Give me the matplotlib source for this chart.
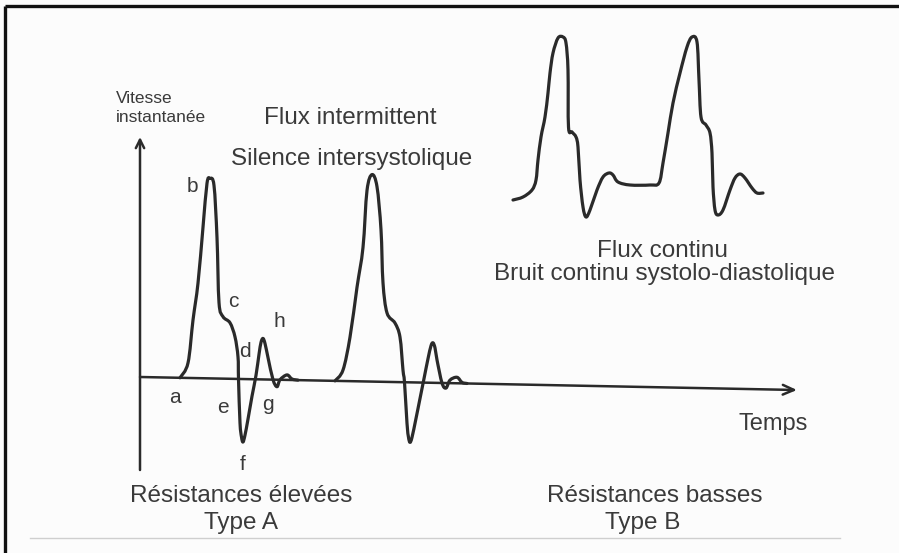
import numpy as np
import matplotlib
matplotlib.use("Agg")
import matplotlib.pyplot as plt
from matplotlib.path import Path
from matplotlib.patches import PathPatch
from matplotlib.transforms import Affine2D

# ---- waveform samples: time (t) and instantaneous velocity (v) ----
# Type A, first cycle (high resistance, intermittent flow)
t_a1 = [40, 48, 53, 58, 63, 67, 70, 74, 77, 79, 83, 90, 95, 98, 98.5, 100,
        101.5, 103, 105, 108, 112, 116, 119, 121, 123, 125, 128, 133, 137,
        140, 147, 152, 158]
v_a1 = [0, 15, 58, 95, 151, 195, 200, 193, 141, 76, 62, 56, 42, 22, 0, -44,
        -58, -63, -56, -40, -17, 4, 25, 37, 41, 36, 22, 0, -7,
        0, 5, 1, 0]

# Type A, second cycle
t_a2 = [195, 203, 210, 217, 223, 227, 232, 237, 241, 243, 247, 255, 260, 263,
        264.5, 267, 268.5, 270, 272, 276, 280, 284, 288, 291, 293, 295, 297,
        302, 306, 310, 317, 322, 327]
v_a2 = [0, 11, 44, 94, 134, 191, 207, 195, 152, 99, 69, 59, 45, 12,
        0, -41, -55, -60, -55, -36, -16, 4, 24, 37, 40, 35, 23,
        0, -5, 3, 6, 1, 0]

# Type B (low resistance, continuous flow)
t_b = [373, 383, 392, 396, 398, 401, 405, 408, 410, 413, 418, 423, 426, 428,
       428.5, 432, 436, 438, 440, 443, 446, 450, 457, 463, 469, 473, 478, 490,
       510, 519, 523, 528, 533, 540, 547, 552, 557, 559, 561, 566, 570, 572,
       573, 575, 578, 583, 590, 595, 600, 605, 612, 617, 623]
v_b = [177, 180, 187, 197, 217, 240, 260, 284, 304, 324, 339, 340, 334, 307,
       250, 245, 240, 230, 197, 170, 160, 167, 187, 200, 204, 202, 195, 192,
       192, 194, 214, 244, 274, 304, 330, 340, 335, 297, 260, 252, 244, 224,
       190, 167, 162, 167, 187, 199, 203, 199, 189, 184, 184]

# point labels on the first Type A cycle
point_labels = ["a", "b", "c", "d", "e", "f", "g", "h"]
label_t = [35, 52, 93, 105, 83, 103, 128, 139]
label_v = [-26, 185, 70, 20, -36, -93, -33, 50]

INK = "#2a2a2a"
TEXT = "#3a3a3a"
FONT = "Liberation Sans"


def smooth_path(t, v):
    """Catmull-Rom curve through the samples, expressed as cubic Bezier segments."""
    pts = np.column_stack([t, v]).astype(float)
    n = len(pts)
    verts = [pts[0]]
    codes = [Path.MOVETO]
    for i in range(n - 1):
        p0 = pts[max(i - 1, 0)]
        p1 = pts[i]
        p2 = pts[i + 1]
        p3 = pts[min(i + 2, n - 1)]
        verts += [p1 + (p2 - p0) / 6.0, p2 - (p3 - p1) / 6.0, p2]
        codes += [Path.CURVE4] * 3
    return Path(verts, codes)


fig = plt.figure(figsize=(8.99, 5.53), dpi=100)
fig.patch.set_facecolor("#fcfcfc")
ax = fig.add_axes([0, 0, 1, 1])
ax.set_xlim(-140, 759)
ax.set_ylim(-176, 377)
ax.axis("off")

# the hand-drawn time axis slopes down slightly to the right
tilt = Affine2D().skew(0, np.arctan(-0.0198)) + ax.transData

# axes with arrows
ax.annotate("", xy=(0, 240), xytext=(0, -93), xycoords=tilt,
            arrowprops=dict(arrowstyle="->,head_length=0.6,head_width=0.3",
                            lw=1.8, color=INK, shrinkA=0, shrinkB=0))
ax.annotate("", xy=(657, 0), xytext=(0, 0), xycoords=tilt,
            arrowprops=dict(arrowstyle="->,head_length=0.8,head_width=0.35",
                            lw=1.8, color=INK, shrinkA=0, shrinkB=0))

# waveforms
for t, v, tr in [(t_a1, v_a1, tilt), (t_a2, v_a2, tilt), (t_b, v_b, ax.transData)]:
    ax.add_patch(PathPatch(smooth_path(t, v), fill=False, lw=2.3,
                           edgecolor=INK, capstyle="round", joinstyle="round",
                           transform=tr))

# point labels
for s, lt, lv in zip(point_labels, label_t, label_v):
    ax.text(lt, lv, s, fontsize=15, color=TEXT, family=FONT,
            ha="center", va="baseline")

# axis titles
ax.text(-24, 274, "Vitesse", fontsize=12.5, color=TEXT, family=FONT,
        ha="left", va="baseline")
ax.text(-24, 255, "instantanée", fontsize=12.5, color=TEXT, family=FONT,
        ha="left", va="baseline")
ax.text(633, -53, "Temps", fontsize=17, color=TEXT, family=FONT,
        ha="center", va="baseline")

# captions
big = dict(fontsize=17.5, color=TEXT, family=FONT, ha="center", va="baseline")
ax.text(210, 253, "Flux intermittent", **big)
ax.text(212, 212, "Silence intersystolique", **big)
ax.text(522, 120, "Flux continu", **big)
ax.text(525, 97, "Bruit continu systolo-diastolique", **big)
ax.text(101, -125, "Résistances élevées", **big)
ax.text(101, -152, "Type A", **big)
ax.text(515, -125, "Résistances basses", **big)
ax.text(503, -152, "Type B", **big)

# page frame and rule
ax.plot([-135, 759], [371, 371], color="#111111", lw=2.4, solid_capstyle="butt")
ax.plot([-135, -135], [371, -176], color="#111111", lw=2.4, solid_capstyle="butt")
ax.plot([-110, 700], [-161, -161], color="#cfcfcf", lw=1.0)

fig.savefig("out.png", dpi=100, facecolor=fig.get_facecolor())
